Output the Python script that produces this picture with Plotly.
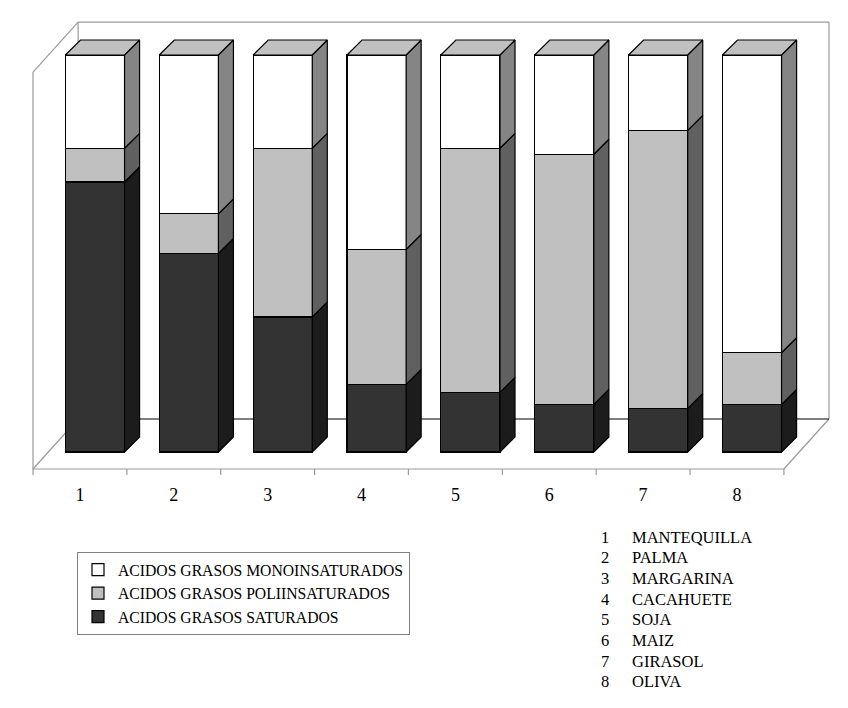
import plotly.graph_objects as go

categorias = ["1", "2", "3", "4", "5", "6", "7", "8"]
alimentos = ["MANTEQUILLA", "PALMA", "MARGARINA", "CACAHUETE", "SOJA", "MAIZ", "GIRASOL", "OLIVA"]
saturados = [68, 50, 34, 17, 15, 12, 11, 12]
poliinsaturados = [8.5, 10, 42.5, 34, 61.5, 63, 70, 13]
monoinsaturados = [23.5, 40, 23.5, 49, 23.5, 25, 19, 75]

# name, values, front colour, side colour
series = [
    ("ACIDOS GRASOS SATURADOS", saturados, "#333333", "#1c1c1c"),
    ("ACIDOS GRASOS POLIINSATURADOS", poliinsaturados, "#c0c0c0", "#606060"),
    ("ACIDOS GRASOS MONOINSATURADOS", monoinsaturados, "#ffffff", "#858585"),
]
TOP_COLOR = "#c0c0c0"
FONT = "Liberation Serif"

# fake 3d geometry (axis units)
PX_X = 93.65   # px per category
PX_Y = 3.97    # px per percent
SHIFT = 15 / PX_X          # bars sit a little behind the floor front edge
BAR_W = 59 / PX_X
DX, DY = 15 / PX_X, 15 / PX_Y   # bar depth
WX, WY = 45 / PX_X, 50 / PX_Y   # wall depth
FLOOR = -17 / PX_Y              # front floor edge
X0, X1 = 0.5, len(categorias) + 0.5

# page has an 8px body margin, plot area spans page px x 28..834, y 8..478
PLOT_H = 470
PLOT_W = 806


def paper_x(px):
    return (px - 28) / PLOT_W


def paper_y(py):
    return (478 - py) / PLOT_H


xpos = [i + 1 + SHIFT for i in range(len(categorias))]

fig = go.Figure()

# front faces
for name, vals, front, side in series:
    fig.add_trace(go.Bar(
        x=xpos, y=vals, name=name, width=BAR_W,
        marker=dict(color=front, line=dict(color="black", width=1.2)),
        hoverinfo="skip",
    ))

# right side faces, one trace per colour
base = [0] * len(categorias)
for name, vals, front, side in series:
    px, py = [], []
    for i, v in enumerate(vals):
        xr = xpos[i] + BAR_W / 2
        y0, y1 = base[i], base[i] + v
        px += [xr, xr + DX, xr + DX, xr, xr, None]
        py += [y0, y0 + DY, y1 + DY, y1, y0, None]
        base[i] = y1
    fig.add_trace(go.Scatter(x=px, y=py, mode="lines", fill="toself", fillcolor=side,
                             line=dict(color="black", width=1.2), showlegend=False, hoverinfo="skip"))

# top faces
px, py = [], []
for i, top in enumerate(base):
    xl, xr = xpos[i] - BAR_W / 2, xpos[i] + BAR_W / 2
    px += [xl, xl + DX, xr + DX, xr, xl, None]
    py += [top, top + DY, top + DY, top, top, None]
fig.add_trace(go.Scatter(x=px, y=py, mode="lines", fill="toself", fillcolor=TOP_COLOR,
                         line=dict(color="black", width=1.2), showlegend=False, hoverinfo="skip"))

# walls and floor
WALL_TOP = 108.3
LEFT_TOP = WALL_TOP - WY
BACK = FLOOR + WY
gray = dict(color="#9a9a9a", width=1.2)
frame = [
    (X0 + WX, WALL_TOP, X1 + WX, WALL_TOP, gray),
    (X0 + WX, BACK, X0 + WX, WALL_TOP, gray),
    (X1 + WX, BACK, X1 + WX, WALL_TOP, gray),
    (X0, FLOOR, X0, LEFT_TOP, gray),
    (X0, LEFT_TOP, X0 + WX, WALL_TOP, gray),
    (X0, FLOOR, X0 + WX, BACK, gray),
    (X1, FLOOR, X1 + WX, BACK, gray),
    (X0 + WX, BACK, X1 + WX, BACK, dict(color="black", width=1.2)),
    (X0, FLOOR, X1, FLOOR, gray),
]
for k in range(len(categorias) + 1):
    frame.append((X0 + k, FLOOR, X0 + k, FLOOR - 6 / PX_Y, gray))
for xa, ya, xb, yb, ln in frame:
    fig.add_shape(type="line", x0=xa, y0=ya, x1=xb, y1=yb, line=ln, layer="below")

# numbered list of foods
for k, (num, name) in enumerate(zip(categorias, alimentos)):
    yy = paper_y(537 + 20.7 * k)
    fig.add_annotation(x=paper_x(605), y=yy, xref="paper", yref="paper", text=num,
                       showarrow=False, xanchor="center", yanchor="middle",
                       font=dict(family=FONT, size=16.5, color="black"))
    fig.add_annotation(x=paper_x(630), y=yy, xref="paper", yref="paper", text=name,
                       showarrow=False, xanchor="left", yanchor="middle",
                       font=dict(family=FONT, size=16.5, color="black"))

fig.update_layout(
    width=840, height=700,
    barmode="stack",
    plot_bgcolor="white", paper_bgcolor="white",
    margin=dict(l=20, r=14, t=0, b=230),
    xaxis=dict(range=[X0 - 5 / PX_X, X1 + WX + 5 / PX_X], tickvals=list(range(1, len(categorias) + 1)),
               ticktext=categorias, showgrid=False, zeroline=False, showline=False, ticks="",
               ticklabelstandoff=4,
               tickfont=dict(family=FONT, size=18, color="black")),
    yaxis=dict(range=[(452 - 478) / PX_Y, (452 - 8) / PX_Y], visible=False),
    showlegend=True,
    legend=dict(x=paper_x(77), y=paper_y(552), xanchor="left", yanchor="top",
                traceorder="reversed", bordercolor="#808080", borderwidth=1, bgcolor="white",
                itemwidth=30, tracegroupgap=0,
                font=dict(family=FONT, size=15.7, color="black")),
)

fig.write_html("out.html")
